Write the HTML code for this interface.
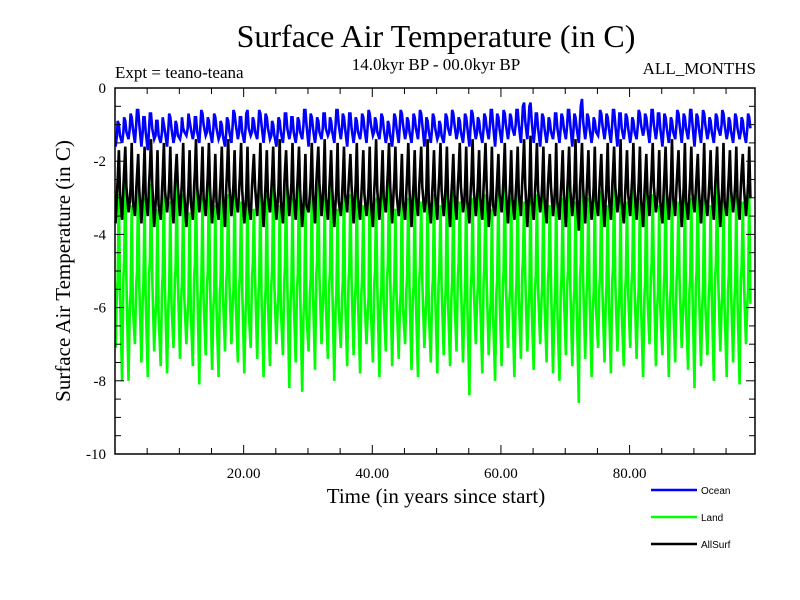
<!DOCTYPE html>
<html><head><meta charset="utf-8"><style>
html,body{margin:0;padding:0;background:#fff}
svg{display:block}
.serif{font-family:"Liberation Serif",serif}
.sans{font-family:"Liberation Sans",sans-serif}
</style></head><body>
<svg id="chart" width="800" height="600" viewBox="0 0 800 600">
<text class="serif" x="436" y="47" font-size="32" text-anchor="middle">Surface Air Temperature (in C)</text>
<text class="serif" x="436" y="70" font-size="17" text-anchor="middle">14.0kyr BP - 00.0kyr BP</text>
<text class="serif" x="115" y="78" font-size="17">Expt = teano-teana</text>
<text class="serif" x="756" y="74" font-size="17" text-anchor="end">ALL_MONTHS</text>
<text class="serif" transform="translate(70,271) rotate(-90)" font-size="21" text-anchor="middle">Surface Air Temperature (in C)</text>
<text class="serif" x="436" y="503" font-size="21" text-anchor="middle">Time (in years since start)</text>
<g id="plot"></g>
<g id="legend"></g>
</svg>
<script>
const xTicks=[20,40,60,80];
const xTickLabels=["20.00","40.00","60.00","80.00"];
const yTicks=[0,-2,-4,-6,-8,-10];
const yTickLabels=["0","-2","-4","-6","-8","-10"];
const seriesNames=["Land","AllSurf","Ocean"];
const landPeak=[-2.9,-2.5,-3.2,-2.4,-3.0,-2.6,-3.3,-2.7,-3.1,-2.5,-2.9,-3.4,-2.6,-3.0,-2.5,-3.2,-2.8,-2.9,-2.3,-3.1,-2.6,-3.3,-2.7,-2.9,-2.5,-3.2,-2.6,-3.0,-2.4,-3.1,-2.8,-2.2,-3.0,-2.6,-3.3,-2.5,-2.9,-2.7,-3.2,-2.4,-3.0,-2.8,-2.6,-3.3,-2.5,-3.0,-2.7,-3.1,-2.6,-2.9,-3.2,-2.5,-2.8,-3.1,-2.6,-3.0,-2.4,-2.9,-3.3,-2.7,-2.2,-3.0,-2.6,-3.1,-2.5,-2.9,-2.8,-3.2,-2.6,-3.0,-2.5,-3.1,-1.9,-3.0,-2.7,-2.8,-3.2,-2.5,-2.9,-3.1,-2.6,-3.0,-2.4,-2.9,-3.2,-2.6,-2.8,-3.1,-2.5,-3.0,-2.4,-2.9,-3.2,-2.6,-3.0,-2.5,-2.9,-3.1,-2.7];
const landShoulder=[-5.6,-5.2,-6.0,-5.4,-5.8,-5.1,-6.2,-5.5,-5.9,-5.3,-5.7,-6.1,-5.2,-5.8,-5.4,-6.0,-5.6,-5.3,-5.9,-5.5,-6.1,-5.2,-5.7,-5.9,-5.4,-6.0,-5.3,-5.8,-5.5,-6.2,-5.6,-5.1,-5.9,-5.4,-6.0,-5.7,-5.3,-5.8,-5.6,-6.1,-5.4,-5.9,-5.2,-5.7,-6.0,-5.5,-5.8,-5.3,-6.1,-5.6,-5.4,-5.9,-5.7,-5.2,-6.0,-5.5,-5.8,-5.3,-6.2,-5.6,-5.4,-5.9,-5.7,-5.1,-6.0,-5.5,-5.8,-5.3,-6.1,-5.6,-5.4,-5.9,-5.2,-5.7,-6.0,-5.5,-5.8,-5.3,-6.1,-5.6,-5.4,-5.9,-5.7,-5.2,-6.0,-5.5,-5.8,-5.3,-6.1,-5.6,-5.4,-5.9,-5.7,-5.2,-6.0,-5.5,-5.8,-5.3,-5.9];
const landTrough=[-7.1,-8.0,-8.0,-7.0,-7.5,-7.9,-7.2,-7.6,-7.8,-7.1,-7.4,-7.0,-7.6,-8.1,-7.3,-7.7,-7.9,-7.2,-7.0,-7.5,-7.8,-7.1,-7.4,-7.9,-7.6,-7.0,-7.3,-8.2,-7.5,-8.3,-7.2,-7.7,-7.0,-7.4,-8.0,-7.1,-7.6,-7.3,-7.8,-7.0,-7.5,-7.9,-7.2,-7.6,-7.4,-7.0,-7.7,-7.9,-7.1,-7.5,-7.8,-7.3,-7.6,-7.2,-7.5,-8.4,-7.0,-7.8,-7.3,-8.0,-7.6,-7.1,-7.9,-7.4,-7.2,-7.7,-7.0,-7.5,-7.8,-8.0,-7.3,-7.6,-8.6,-7.4,-7.9,-7.1,-7.5,-7.8,-7.2,-7.6,-7.1,-7.4,-7.9,-7.0,-7.6,-7.3,-7.9,-7.5,-7.1,-7.7,-8.2,-7.6,-7.3,-8.0,-7.2,-7.9,-7.5,-8.1,-7.0];
const allPeak=[-1.7,-1.6,-1.5,-1.8,-1.6,-1.4,-1.7,-1.5,-1.6,-1.8,-1.5,-1.7,-1.4,-1.6,-1.5,-1.8,-1.6,-1.4,-1.7,-1.5,-1.6,-1.8,-1.5,-1.7,-1.6,-1.4,-1.7,-1.5,-1.6,-1.8,-1.5,-1.6,-1.4,-1.7,-1.5,-1.6,-1.8,-1.5,-1.7,-1.6,-1.4,-1.7,-1.5,-1.6,-1.8,-1.5,-1.7,-1.6,-1.4,-1.7,-1.5,-1.6,-1.8,-1.5,-1.6,-1.4,-1.7,-1.5,-1.6,-1.8,-1.5,-1.7,-1.6,-1.4,-1.3,-1.5,-1.6,-1.8,-1.5,-1.7,-1.6,-1.4,-1.5,-1.7,-1.6,-1.8,-1.5,-1.6,-1.4,-1.7,-1.5,-1.6,-1.8,-1.5,-1.7,-1.6,-1.4,-1.7,-1.5,-1.6,-1.8,-1.5,-1.7,-1.6,-1.5,-1.7,-1.6,-1.8,-1.6];
const allShoulder=[-2.9,-2.7,-3.1,-2.8,-3.0,-2.6,-3.2,-2.8,-3.0,-2.7,-2.9,-3.1,-2.7,-3.0,-2.8,-3.1,-2.9,-2.7,-3.0,-2.8,-3.2,-2.7,-2.9,-3.0,-2.8,-3.1,-2.7,-3.0,-2.8,-3.2,-2.9,-2.6,-3.0,-2.8,-3.1,-2.9,-2.7,-3.0,-2.9,-3.1,-2.8,-3.0,-2.7,-2.9,-3.1,-2.8,-3.0,-2.7,-3.1,-2.9,-2.8,-3.0,-2.9,-2.7,-3.1,-2.8,-3.0,-2.7,-3.2,-2.9,-2.8,-3.0,-2.9,-2.6,-3.1,-2.8,-3.0,-2.7,-3.1,-2.9,-2.8,-3.0,-2.7,-2.9,-3.1,-2.8,-3.0,-2.7,-3.1,-2.9,-2.8,-3.0,-2.9,-2.7,-3.1,-2.8,-3.0,-2.7,-3.1,-2.9,-2.8,-3.0,-2.9,-2.7,-3.1,-2.8,-3.0,-2.7,-3.0];
const allTrough=[-3.7,-3.6,-3.4,-3.5,-3.7,-3.5,-3.8,-3.6,-3.4,-3.7,-3.5,-3.8,-3.6,-3.4,-3.5,-3.7,-3.6,-3.8,-3.5,-3.4,-3.7,-3.6,-3.5,-3.8,-3.4,-3.6,-3.7,-3.5,-3.6,-3.8,-3.4,-3.7,-3.5,-3.6,-3.8,-3.5,-3.4,-3.7,-3.6,-3.5,-3.8,-3.6,-3.4,-3.7,-3.5,-3.6,-3.8,-3.5,-3.4,-3.7,-3.6,-3.5,-3.8,-3.6,-3.4,-3.7,-3.5,-3.6,-3.8,-3.5,-3.4,-3.7,-3.6,-3.5,-3.8,-3.6,-3.4,-3.7,-3.5,-3.6,-3.8,-3.5,-3.9,-3.7,-3.6,-3.5,-3.8,-3.6,-3.4,-3.7,-3.5,-3.6,-3.8,-3.5,-3.4,-3.7,-3.6,-3.5,-3.8,-3.6,-3.4,-3.7,-3.5,-3.6,-3.8,-3.5,-3.4,-3.6,-3.5];
const oceanPeak=[-1.0,-0.9,-0.8,-0.6,-0.8,-0.7,-0.9,-1.0,-0.8,-1.0,-1.1,-0.9,-0.8,-0.7,-0.9,-0.8,-1.0,-0.9,-0.7,-0.8,-0.6,-0.9,-0.7,-0.8,-1.0,-0.9,-0.7,-0.8,-0.9,-0.6,-0.8,-0.9,-0.7,-0.9,-0.6,-0.8,-0.7,-0.9,-0.8,-0.7,-0.9,-0.8,-1.0,-0.8,-0.7,-0.9,-0.8,-0.7,-0.9,-0.8,-1.0,-0.8,-0.7,-0.9,-0.8,-0.7,-0.9,-0.8,-0.6,-0.8,-0.7,-0.8,-0.6,-0.4,-0.4,-0.7,-0.8,-0.9,-0.7,-0.8,-0.6,-0.8,-0.3,-0.8,-0.9,-0.7,-0.8,-0.6,-0.7,-0.8,-0.9,-0.7,-0.8,-0.6,-0.7,-0.8,-0.9,-0.7,-0.8,-0.6,-0.8,-0.7,-0.9,-0.8,-0.7,-0.9,-0.8,-0.9,-0.8];
const oceanShoulder=[-1.3,-1.2,-1.1,-1.0,-1.2,-1.1,-1.3,-1.2,-1.1,-1.3,-1.2,-1.1,-1.2,-1.0,-1.2,-1.1,-1.3,-1.2,-1.0,-1.2,-1.1,-1.2,-1.0,-1.1,-1.3,-1.2,-1.1,-1.2,-1.2,-1.0,-1.1,-1.2,-1.1,-1.2,-1.0,-1.1,-1.1,-1.2,-1.1,-1.0,-1.2,-1.1,-1.3,-1.1,-1.0,-1.2,-1.1,-1.0,-1.2,-1.1,-1.3,-1.1,-1.0,-1.2,-1.1,-1.0,-1.2,-1.1,-1.0,-1.1,-1.0,-1.1,-1.0,-0.9,-0.9,-1.1,-1.1,-1.2,-1.1,-1.1,-1.0,-1.1,-0.9,-1.1,-1.2,-1.0,-1.1,-1.0,-1.1,-1.1,-1.2,-1.0,-1.1,-1.0,-1.1,-1.1,-1.2,-1.0,-1.1,-1.0,-1.1,-1.0,-1.2,-1.1,-1.0,-1.2,-1.1,-1.2,-1.1];
const oceanTrough=[-1.6,-1.5,-1.4,-1.5,-1.6,-1.7,-1.4,-1.5,-1.6,-1.5,-1.4,-1.3,-1.4,-1.5,-1.3,-1.5,-1.4,-1.6,-1.5,-1.4,-1.5,-1.3,-1.4,-1.5,-1.4,-1.6,-1.5,-1.4,-1.5,-1.4,-1.6,-1.5,-1.4,-1.3,-1.5,-1.4,-1.6,-1.5,-1.4,-1.5,-1.3,-1.4,-1.5,-1.6,-1.5,-1.4,-1.5,-1.4,-1.6,-1.5,-1.4,-1.5,-1.3,-1.4,-1.5,-1.6,-1.4,-1.5,-1.4,-1.6,-1.5,-1.4,-1.3,-1.5,-1.4,-1.5,-1.6,-1.5,-1.4,-1.5,-1.4,-1.6,-1.5,-1.4,-1.5,-1.3,-1.4,-1.5,-1.6,-1.4,-1.5,-1.4,-1.3,-1.5,-1.4,-1.6,-1.5,-1.4,-1.5,-1.4,-1.6,-1.5,-1.4,-1.5,-1.3,-1.4,-1.5,-1.4,-1.5];

const L=115,R=755,T=88,B=454,XMIN=0,XMAX=99.5,YMIN=-10,YMAX=0;
function xs(v){return L+(v-XMIN)/(XMAX-XMIN)*(R-L);}
function ys(v){return B-(v-YMIN)/(YMAX-YMIN)*(B-T);}
const NS="http://www.w3.org/2000/svg";
const plot=document.getElementById('plot');
function mk(tag,attrs,parent){const e=document.createElementNS(NS,tag);for(const k in attrs)e.setAttribute(k,attrs[k]);(parent||plot).appendChild(e);return e;}

function series(peaks,shoulders,troughs,color,name){
  let d="";
  for(let i=0;i<peaks.length;i++){
    d+=(i===0?"M":"L")+xs(i+0.1).toFixed(1)+","+ys(troughs[i]).toFixed(1);
    d+="L"+xs(i+0.3).toFixed(1)+","+ys(shoulders[i]).toFixed(1);
    d+="L"+xs(i+0.42).toFixed(1)+","+ys(shoulders[i]+0.4).toFixed(1);
    d+="L"+xs(i+0.6).toFixed(1)+","+ys(peaks[i]).toFixed(1);
    d+="L"+xs(i+0.78).toFixed(1)+","+ys(shoulders[i]).toFixed(1);
  }
  const p=mk('path',{d:d,fill:'none',stroke:color,'stroke-width':2.6,'stroke-linejoin':'miter'});
  
  
}
series(landPeak,landShoulder,landTrough,'#00ff00','land');
series(allPeak,allShoulder,allTrough,'#000000','allsurf');
series(oceanPeak,oceanShoulder,oceanTrough,'#0000ff','ocean');

const frame=mk('rect',{x:L,y:T,width:R-L,height:B-T,fill:'none',stroke:'#000','stroke-width':1.5});


for(let v=5;v<XMAX;v+=5){
  const len=(v%20===0)?9:6;
  mk('line',{x1:xs(v),x2:xs(v),y1:B,y2:B-len,stroke:'#000'});
  mk('line',{x1:xs(v),x2:xs(v),y1:T,y2:T+len,stroke:'#000'});
}
for(let v=-9.5;v<0;v+=0.5){
  const len=(Math.abs(v%2)<0.01)?9:6;
  mk('line',{x1:L,x2:L+len,y1:ys(v),y2:ys(v),stroke:'#000'});
  mk('line',{x1:R,x2:R-len,y1:ys(v),y2:ys(v),stroke:'#000'});
}
xTicks.forEach((v,i)=>{
  const t=mk('text',{x:xs(v),y:478,'font-size':15,'text-anchor':'middle','class':'serif'});
  t.textContent=xTickLabels[i];
  
  
});
yTicks.forEach((v,i)=>{
  const t=mk('text',{x:106,y:ys(v)+5,'font-size':15,'text-anchor':'end','class':'serif'});
  t.textContent=yTickLabels[i];
  
  
});
const legend=document.getElementById('legend');
const legColors=['#0000ff','#00ff00','#000000'];
const legLabels=['Ocean','Land','AllSurf'];
legLabels.forEach((lab,i)=>{
  const y=490+i*27;
  const g=mk('g',{},legend);
  
  
  mk('line',{x1:651,x2:697,y1:y,y2:y,stroke:legColors[i],'stroke-width':2.6},g);
  const t=mk('text',{x:701,y:y+4,'font-size':10,'class':'sans'},g);
  t.textContent=lab;
});
</script>
</body></html>
